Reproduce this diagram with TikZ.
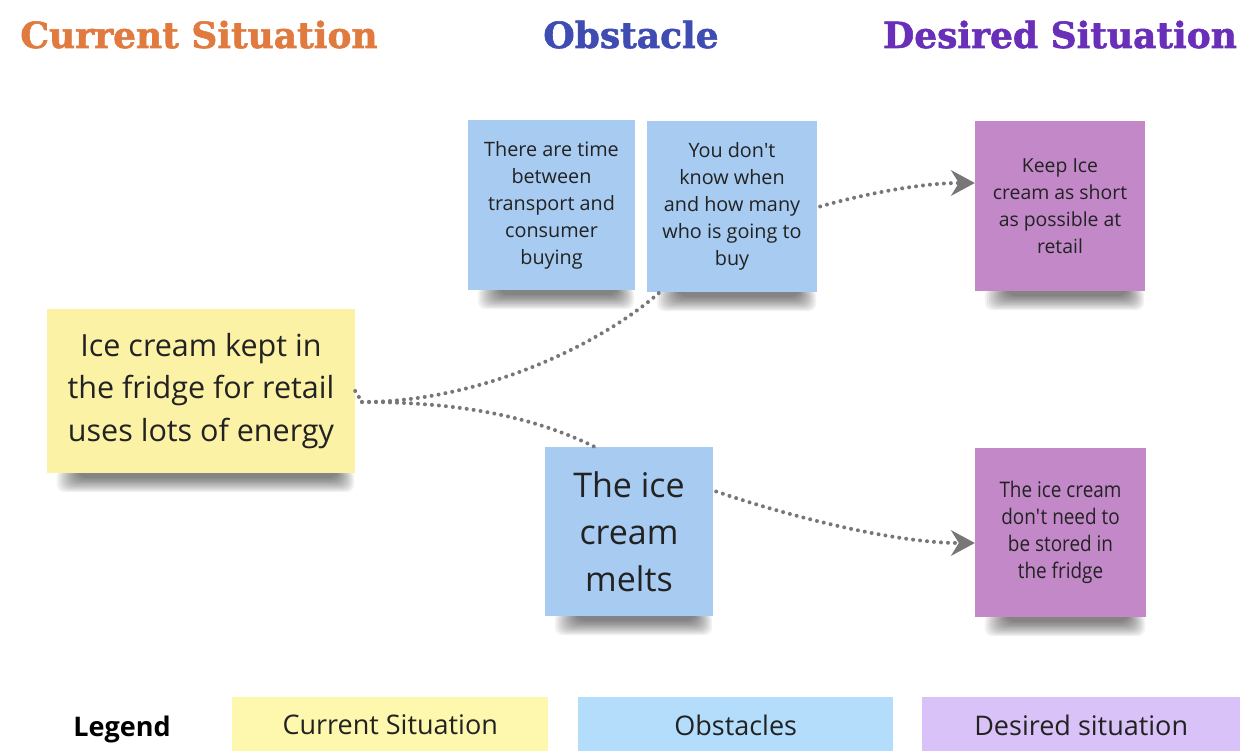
\documentclass[tikz,border=0pt]{standalone}
\usepackage{fontspec}
\setmainfont{Open Sans}
\newfontfamily\headfont[FakeBold=1.6]{DejaVu Serif}
\newfontfamily\narrowfont[FakeStretch=0.88]{Open Sans}
\usetikzlibrary{arrows.meta,backgrounds}
\definecolor{headorange}{HTML}{E07A3F}
\definecolor{headblue}{HTML}{3F4DB3}
\definecolor{headpurple}{HTML}{6A2FB8}
\definecolor{noteyellow}{HTML}{FBF2A6}
\definecolor{noteblue}{HTML}{A7CBF1}
\definecolor{notepurple}{HTML}{C288C8}
\definecolor{legyellow}{HTML}{FEF7AE}
\definecolor{legblue}{HTML}{B3DDFB}
\definecolor{legpurple}{HTML}{D8C2F7}
\definecolor{linkgray}{HTML}{777777}
\definecolor{inktext}{HTML}{222222}
\tikzset{
  x=1pt, y=-1pt,
  heading/.style={font=\headfont\bfseries\fontsize{36}{40}\selectfont, anchor=base},
  sticky/.style={draw=none, inner sep=0pt, align=center, text=inktext},
  link/.style={draw=linkgray, line width=4pt, dash pattern=on 0pt off 7pt, line cap=round},
  arrowlink/.style={link, -{Stealth[length=24pt, width=26pt, inset=8pt, fill=linkgray, line width=0pt, sep=0pt]}},
  legendbox/.style={draw=none, inner sep=0pt, font=\fontsize{27}{30}\selectfont, text=inktext},
}
% soft shadow along the lower edge of a sticky note
\newcommand\noteshadow[1]{%
  \foreach \k in {0,...,11}{
    \fill[black, opacity=0.05, rounded corners=8pt]
      ([xshift={10pt+2pt*\k}, yshift=4pt]#1.south west)
      rectangle ([xshift={-1pt-1.6pt*\k}, yshift={-19pt+1.3pt*\k}]#1.south east);
  }}
\begin{document}
\begin{tikzpicture}
\useasboundingbox (0,0) rectangle (1243,751);

% column headings
\node[heading, text=headorange] (hcur) at (199,48) {Current Situation};
\node[heading, text=headblue] (hobs) at (631,48) {Obstacle};
\node[heading, text=headpurple] (hdes) at (1060,48) {Desired Situation};

% sticky notes
\node[sticky, fill=noteyellow, minimum width=308pt, minimum height=164pt,
  font=\fontsize{30.5}{42.5}\selectfont] (cur) at (201,391)
  {Ice cream kept in\\the fridge for retail\\uses lots of energy};
\node[sticky, fill=noteblue, minimum width=167pt, minimum height=170pt,
  font=\fontsize{19.8}{27}\selectfont] (obsA) at (551.5,205)
  {There are time\\between\\transport and\\consumer\\buying};
\node[sticky, fill=noteblue, minimum width=170pt, minimum height=171pt,
  font=\fontsize{19.8}{27}\selectfont] (obsB) at (732,206.5)
  {You don\textquotesingle t\\know when\\and how many\\who is going to\\buy};
\node[sticky, fill=noteblue, minimum width=168pt, minimum height=169pt,
  font=\fontsize{34}{47}\selectfont] (obsC) at (629,531.5)
  {The ice\\cream\\melts};
\node[sticky, fill=notepurple, minimum width=170pt, minimum height=170pt,
  font=\fontsize{19.4}{27}\selectfont] (desA) at (1060,206)
  {Keep Ice\\cream as short\\as possible at\\retail};
\node[sticky, fill=notepurple, minimum width=171pt, minimum height=169pt,
  font=\narrowfont\fontsize{21.5}{27}\selectfont] (desB) at (1060.5,532.5)
  {The ice cream\\don\textquotesingle t need to\\be stored in\\the fridge};

\begin{scope}[on background layer]
  \fill[white] (0,0) rectangle (1243,751);
  \noteshadow{cur}
  \noteshadow{obsA}
  \noteshadow{obsB}
  \noteshadow{obsC}
  \noteshadow{desA}
  \noteshadow{desB}
\end{scope}

% dotted connectors
\coordinate (fork) at (362,402);
\draw[link] (fork) .. controls (480,402) and (600,345) .. ([xshift=13pt]obsB.south west);
\draw[link] (fork) .. controls (470,402) and (540,420) .. (595,447);
\draw[link] (cur.east) -- (fork);
\draw[arrowlink] ([xshift=3pt]obsB.east) .. controls (860,195) and (920,183) .. (desA.west |- 0,183);
\draw[arrowlink] ([xshift=3pt, yshift=40pt]obsC.east) .. controls (800,520) and (900,543) .. (desB.west |- 0,543);

% legend
\node[font=\bfseries\fontsize{27}{30}\selectfont, text=black, anchor=base] (leg) at (122,736) {Legend};
\node[legendbox, fill=legyellow, minimum width=316pt, minimum height=56pt, anchor=north west] (legcur) at (232,697) {Current Situation};
\node[legendbox, fill=legblue, minimum width=315pt, minimum height=56pt, anchor=north west] (legobs) at (578,697) {Obstacles};
\node[legendbox, fill=legpurple, minimum width=318pt, minimum height=56pt, anchor=north west] (legdes) at (922,697) {Desired situation};
\end{tikzpicture}
\end{document}
